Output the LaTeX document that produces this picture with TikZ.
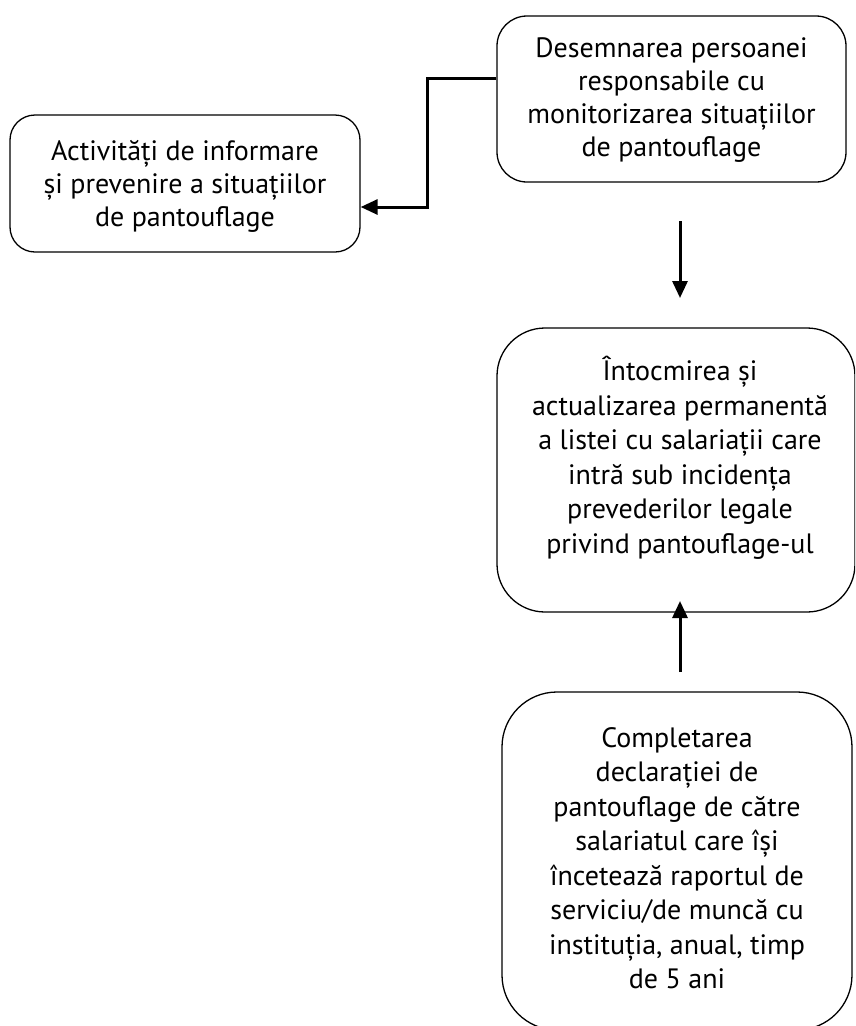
\documentclass[tikz,border=0pt]{standalone}
\usepackage{fontspec}
\setmainfont{PT Sans}
\usetikzlibrary{arrows.meta}
\tikzset{
  box/.style={draw=black, line width=1.3pt, rounded corners=#1, inner sep=0pt},
  txt/.style={align=center, inner sep=0pt, font=\fontsize{28}{33}\selectfont},
  txtb/.style={align=center, inner sep=0pt, font=\fontsize{28}{34.5}\selectfont},
  arr/.style={line width=3pt, -{Triangle[length=17pt,width=15pt]}}
}
\begin{document}
\begin{tikzpicture}[x=1pt,y=-1pt]
\useasboundingbox (0,0) rectangle (855,1026);
\clip (0,0) rectangle (855,1026);
% boxes
\node[box=30pt, minimum width=349pt, minimum height=166pt] (b1) at (671.5,99) {};
\node[box=25pt, minimum width=350pt, minimum height=137pt] (b2) at (185,183.5) {};
\node[box=48pt, minimum width=358pt, minimum height=284pt] (b3) at (676,470) {};
\node[box=55pt, minimum width=350pt, minimum height=338pt] (b4) at (677,861) {};
% texts
\node[txt] (t1) at (671.5,100) {Desemnarea persoanei\\responsabile cu\\monitorizarea situațiilor\\de pantouflage};
\node[txt] (t2) at (185,186) {Activități de informare\\și prevenire a situațiilor\\de pantouflage};
\node[txtb] (t3) at (680,458) {Întocmirea și\\actualizarea permanentă\\a listei cu salariații care\\intră sub incidența\\prevederilor legale\\privind pantouflage-ul};
\node[txtb] (t4) at (677,858) {Completarea\\declarației de\\pantouflage de către\\salariatul care își\\încetează raportul de\\serviciu/de muncă cu\\instituția, anual, timp\\de 5 ani};
% connectors
\coordinate (e1) at (427,78);
\coordinate (e2) at (427,207);
\draw[arr] (b1.west |- e1) -- (e1) -- (e2) -- (b2.east |- e2);
\coordinate (d1) at (680,221);
\coordinate (d2) at (680,298);
\draw[arr] (d1) -- (d2);
\coordinate (u1) at (680,672);
\coordinate (u2) at (680,601);
\draw[arr] (u1) -- (u2);
\end{tikzpicture}
\end{document}
